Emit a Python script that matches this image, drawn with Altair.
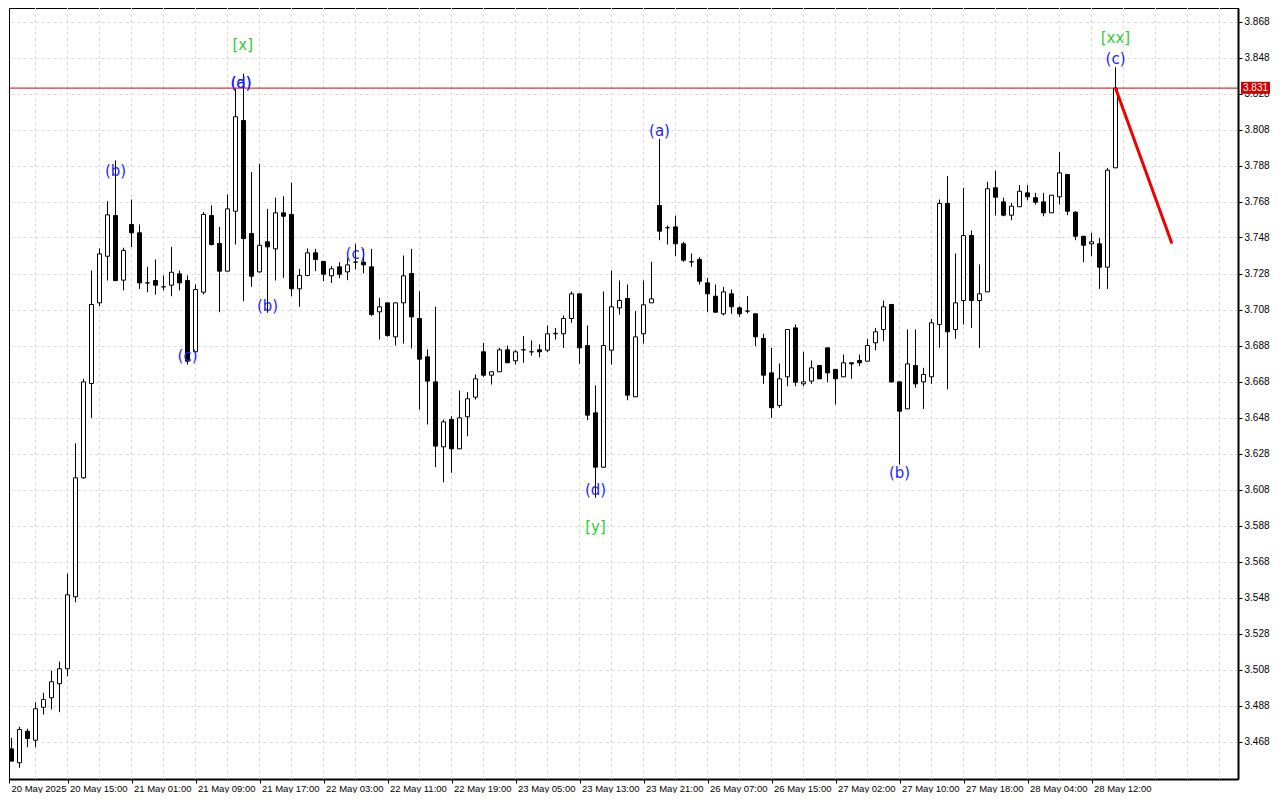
import altair as alt
import pandas as pd

# ---------------- data ----------------
opens = [3.4640, 3.4639, 3.4562, 3.4737, 3.4687, 3.4870, 3.4923, 3.5001, 3.5084, 3.5484,
         3.6145, 3.6669, 3.7117, 3.7376, 3.7602, 3.7243, 3.7552, 3.7506, 3.7228, 3.7241,
         3.7206, 3.7215, 3.7278, 3.7241, 3.6845, 3.7176, 3.7602, 3.7447, 3.7293, 3.7626,
         3.8130, 3.7502, 3.7289, 3.7456, 3.7417, 3.7617, 3.7608, 3.7195, 3.7269, 3.7395,
         3.7347, 3.7267, 3.7317, 3.7289, 3.7343, 3.7343, 3.7317, 3.7067, 3.7117, 3.6928,
         3.7117, 3.7280, 3.7030, 3.6817, 3.6678, 3.6317, 3.6469, 3.6306, 3.6484, 3.6593,
         3.6845, 3.6715, 3.6734, 3.6856, 3.6795, 3.6856, 3.6845, 3.6856, 3.6854, 3.6945,
         3.6945, 3.7030, 3.7167, 3.6880, 3.6506, 3.6204, 3.6854, 3.7089, 3.7141, 3.6595,
         3.6945, 3.7117, 3.7658, 3.7534, 3.7539, 3.7445, 3.7345, 3.7358, 3.7228, 3.7154,
         3.7056, 3.7167, 3.7089, 3.7071, 3.7056, 3.6919, 3.6728, 3.6547, 3.6706, 3.6978,
         3.6667, 3.6682, 3.6769, 3.6867, 3.6747, 3.6706, 3.6784, 3.6797, 3.6793, 3.6895,
         3.6969, 3.7108, 3.6678, 3.6528, 3.6769, 3.6678, 3.6706, 3.6997, 3.7669, 3.6969,
         3.7130, 3.7491, 3.7130, 3.7178, 3.7756, 3.7678, 3.7604, 3.7651, 3.7728, 3.7701,
         3.7678, 3.7617, 3.7706, 3.7830, 3.7621, 3.7487, 3.7445, 3.7445, 3.7315, 3.7867]
highs = [3.4660, 3.4700, 3.4762, 3.4752, 3.4898, 3.4951, 3.5074, 3.5124, 3.5613, 3.6336,
         3.6695, 3.7297, 3.7419, 3.7682, 3.7908, 3.7423, 3.7691, 3.7552, 3.7317, 3.7358,
         3.7269, 3.7428, 3.7297, 3.7269, 3.7219, 3.7621, 3.7658, 3.7539, 3.7719, 3.8306,
         3.8391, 3.7843, 3.7890, 3.7639, 3.7701, 3.7709, 3.7784, 3.7306, 3.7419, 3.7417,
         3.7347, 3.7321, 3.7343, 3.7367, 3.7445, 3.7417, 3.7417, 3.7145, 3.7117, 3.7117,
         3.7380, 3.7417, 3.7182, 3.6858, 3.7095, 3.6469, 3.6487, 3.6630, 3.6621, 3.6719,
         3.6895, 3.6734, 3.6867, 3.6880, 3.6856, 3.6932, 3.6908, 3.6886, 3.6991, 3.6978,
         3.7047, 3.7180, 3.7167, 3.6991, 3.6658, 3.7180, 3.7297, 3.7241, 3.7219, 3.7071,
         3.7241, 3.7345, 3.8028, 3.7547, 3.7602, 3.7456, 3.7391, 3.7371, 3.7256, 3.7219,
         3.7206, 3.7191, 3.7098, 3.7154, 3.7056, 3.6945, 3.6867, 3.6780, 3.6969, 3.6997,
         3.6845, 3.6797, 3.6769, 3.6867, 3.6747, 3.6830, 3.6784, 3.6830, 3.6917, 3.6978,
         3.7130, 3.7108, 3.6678, 3.6969, 3.6969, 3.6756, 3.7028, 3.7691, 3.7821, 3.7391,
         3.7756, 3.7519, 3.7330, 3.7789, 3.7852, 3.7701, 3.7673, 3.7771, 3.7771, 3.7728,
         3.7728, 3.7715, 3.7956, 3.7830, 3.7626, 3.7487, 3.7506, 3.7478, 3.7867, 3.8426]
lows = [3.4630, 3.4571, 3.4534, 3.4648, 3.4648, 3.4830, 3.4858, 3.4843, 3.5043, 3.5454,
        3.6140, 3.6478, 3.7098, 3.7241, 3.7237, 3.7187, 3.7426, 3.7195, 3.7176, 3.7163,
        3.7186, 3.7154, 3.7186, 3.6774, 3.6845, 3.7163, 3.7436, 3.7065, 3.7293, 3.7441,
        3.7126, 3.7206, 3.7285, 3.7062, 3.7241, 3.7256, 3.7154, 3.7095, 3.7265, 3.7293,
        3.7237, 3.7228, 3.7254, 3.7243, 3.7302, 3.7280, 3.7043, 3.6913, 3.6928, 3.6880,
        3.6891, 3.6863, 3.6524, 3.6441, 3.6204, 3.6120, 3.6173, 3.6306, 3.6376, 3.6580,
        3.6706, 3.6663, 3.6734, 3.6784, 3.6775, 3.6784, 3.6824, 3.6815, 3.6843, 3.6913,
        3.6867, 3.7006, 3.6778, 3.6465, 3.6034, 3.6200, 3.6774, 3.7052, 3.6576, 3.6595,
        3.6891, 3.7117, 3.7465, 3.7441, 3.7376, 3.7345, 3.7317, 3.7219, 3.7065, 3.7065,
        3.7047, 3.7056, 3.7039, 3.7058, 3.6876, 3.6667, 3.6478, 3.6534, 3.6654, 3.6654,
        3.6654, 3.6667, 3.6695, 3.6676, 3.6552, 3.6706, 3.6695, 3.6765, 3.6793, 3.6854,
        3.6904, 3.6673, 3.6219, 3.6528, 3.6645, 3.6528, 3.6667, 3.6867, 3.6636, 3.6917,
        3.6997, 3.6978, 3.6867, 3.7178, 3.7602, 3.7598, 3.7576, 3.7651, 3.7687, 3.7663,
        3.7598, 3.7617, 3.7663, 3.7604, 3.7465, 3.7343, 3.7376, 3.7195, 3.7195, 3.7867]
closes = [3.4650, 3.4571, 3.4747, 3.4697, 3.4862, 3.4913, 3.5012, 3.5084, 3.5495, 3.6145,
          3.6678, 3.7108, 3.7389, 3.7606, 3.7241, 3.7408, 3.7506, 3.7228, 3.7228, 3.7215,
          3.7206, 3.7287, 3.7228, 3.6793, 3.7191, 3.7608, 3.7441, 3.7293, 3.7639, 3.8151,
          3.7474, 3.7265, 3.7437, 3.7428, 3.7617, 3.7598, 3.7195, 3.7269, 3.7395, 3.7358,
          3.7276, 3.7306, 3.7276, 3.7328, 3.7343, 3.7328, 3.7052, 3.7095, 3.6936, 3.7117,
          3.7267, 3.7039, 3.6804, 3.6682, 3.6321, 3.6456, 3.6306, 3.6478, 3.6584, 3.6695,
          3.6715, 3.6734, 3.6856, 3.6784, 3.6845, 3.6856, 3.6845, 3.6845, 3.6945, 3.6948,
          3.7030, 3.7167, 3.6867, 3.6493, 3.6204, 3.6880, 3.7095, 3.7130, 3.6604, 3.6928,
          3.7106, 3.7139, 3.7515, 3.7534, 3.7445, 3.7354, 3.7345, 3.7237, 3.7167, 3.7065,
          3.7178, 3.7095, 3.7056, 3.7071, 3.6928, 3.6715, 3.6534, 3.6695, 3.6969, 3.6676,
          3.6678, 3.6756, 3.6695, 3.6728, 3.6695, 3.6784, 3.6778, 3.6784, 3.6880, 3.6956,
          3.7095, 3.6678, 3.6515, 3.6778, 3.6667, 3.6719, 3.7006, 3.7669, 3.6956, 3.7117,
          3.7491, 3.7130, 3.7167, 3.7751, 3.7704, 3.7604, 3.7654, 3.7737, 3.7706, 3.7676,
          3.7617, 3.7715, 3.7839, 3.7626, 3.7487, 3.7437, 3.7456, 3.7315, 3.7854, 3.8310]

time_tick_index = [0, 8, 16, 24, 32, 40, 48, 56, 64, 72, 80, 88, 96, 104, 112, 120, 128, 136]
time_tick_labels = ["20 May 2025", "20 May 15:00", "21 May 01:00", "21 May 09:00",
                    "21 May 17:00", "22 May 03:00", "22 May 11:00", "22 May 19:00",
                    "23 May 05:00", "23 May 13:00", "23 May 21:00", "26 May 07:00",
                    "26 May 15:00", "27 May 02:00", "27 May 10:00", "27 May 18:00",
                    "28 May 04:00", "28 May 12:00"]
price_ticks = [3.468, 3.488, 3.508, 3.528, 3.548, 3.568, 3.588, 3.608, 3.628, 3.648,
               3.668, 3.688, 3.708, 3.728, 3.748, 3.768, 3.788, 3.808, 3.828, 3.848, 3.868]

level_price = 3.831
forecast_index = [139, 146.05]
forecast_price = [3.831, 3.7447]

wave_text = ["(b)", "(c)", "(a)", "(d)", "[x]", "(b)", "(c)", "(d)", "[y]",
             "(a)", "(b)", "[xx]", "(c)"]
wave_index = [14, 23, 29.7, 29.7, 29.9, 33, 44, 74, 74, 82, 112, 139, 139]
wave_price = [3.7852, 3.6824, 3.8341, 3.8341, 3.8552, 3.7102, 3.7391, 3.6080, 3.5874,
              3.8074, 3.6174, 3.8586, 3.8474]
wave_degree = ["minor", "minor", "minor", "minor", "major", "minor", "minor", "minor",
               "major", "minor", "minor", "major", "minor"]

# ---------------- layout ----------------
W, H = 1229, 771
X0 = 0.6875
X1 = X0 + W / 8.0
Y_TOP = 3.8755
Y_BOT = Y_TOP - H / 1800.0

FONT = "Liberation Sans"

df = pd.DataFrame({"i": list(range(len(opens))), "open": opens, "high": highs,
                   "low": lows, "close": closes})
df["xl"] = df["i"] - 0.25
df["xr"] = df["i"] + 0.25

xscale = alt.Scale(domain=[X0, X1], nice=False, zero=False)
yscale = alt.Scale(domain=[Y_BOT, Y_TOP], nice=False, zero=False)

axis_vals = [max(v, X0) for v in time_tick_index]
label_arr = "[" + ",".join("'" + s + "'" for s in time_tick_labels) + "]"

x_axis = alt.Axis(orient="bottom", values=axis_vals,
                  labelExpr=label_arr + "[round(datum.value/8)]",
                  labelAlign="left", labelBaseline="top", labelOffset=2,
                  labelPadding=0, tickSize=4, tickColor="black",
                  domainColor="black", domainWidth=2, grid=False,
                  labelFont=FONT, labelFontSize=9.5, labelColor="black",
                  labelOverlap=False, labelFlush=False, labelBound=False, title=None)
y_axis = alt.Axis(orient="right", values=price_ticks, format=".3f",
                  tickSize=4, tickColor="black", labelPadding=2,
                  domainColor="black", domainWidth=2,
                  grid=True, gridDash=[3, 3], gridColor="#d9d9d9",
                  labelFont=FONT, labelFontSize=10, labelColor="black",
                  labelOverlap=False, labelFlush=False, labelBound=False, title=None)


def X(field):
    return alt.X(field, type="quantitative", scale=xscale, axis=x_axis, title=None)


def Y(field):
    return alt.Y(field, type="quantitative", scale=yscale, axis=y_axis, title=None)


vgrid = alt.Chart(alt.sequence(4, 156, 4, as_="g")).mark_rule(
    color="#d9d9d9", strokeDash=[3, 3], strokeWidth=1, clip=True
).encode(x=X("g"))

base = alt.Chart(df)
wicks = base.mark_rule(color="black", strokeWidth=1, clip=True).encode(
    x=X("i"), y=Y("low"), y2="high:Q",
)
bodies = base.mark_rect(stroke="black", strokeWidth=1, clip=True).encode(
    x=X("xl"), x2="xr:Q", y=Y("open"), y2="close:Q",
    fill=alt.condition("datum.close >= datum.open", alt.value("white"), alt.value("black")),
)

level_df = pd.DataFrame({"price": [level_price],
                         "lo": [level_price - 0.0032], "hi": [level_price + 0.0035]})
level_line = alt.Chart(level_df).mark_rule(color="#dd0000", strokeWidth=1).encode(
    y=Y("price"), x=alt.value(0), x2=alt.value(W),
)
level_box = alt.Chart(level_df).mark_rect(color="#d40000").encode(
    y=Y("lo"), y2="hi:Q", x=alt.value(W + 3), x2=alt.value(W + 32),
)
level_text = alt.Chart(level_df).mark_text(
    color="white", align="left", baseline="middle", font=FONT, fontSize=10
).encode(
    y=Y("price"), x=alt.value(W + 5), text=alt.Text("price:Q", format=".3f"),
)

fc_df = pd.DataFrame({"i": forecast_index, "price": forecast_price})
forecast = alt.Chart(fc_df).mark_line(color="#ee0000", strokeWidth=3, clip=True).encode(
    x=X("i"), y=Y("price"),
)

wave_df = pd.DataFrame({"i": wave_index, "price": wave_price, "t": wave_text,
                        "deg": wave_degree})
waves = alt.Chart(wave_df).mark_text(
    font="DejaVu Sans", fontSize=15, align="center", baseline="middle"
).encode(
    x=X("i"), y=Y("price"), text="t:N",
    color=alt.Color("deg:N", scale=alt.Scale(domain=["minor", "major"],
                                             range=["#1e1eff", "#32cd32"]), legend=None),
)

chart = alt.layer(vgrid, wicks, bodies, level_line, forecast, waves, level_box, level_text).properties(
    width=W, height=H, padding={"left": 0, "top": 0, "right": 0, "bottom": 0},
    background="white",
).configure_view(stroke="black", strokeWidth=1).configure_axis(labelOverlap=False)

chart.save("out.html", embed_options={"renderer": "svg", "actions": False})
